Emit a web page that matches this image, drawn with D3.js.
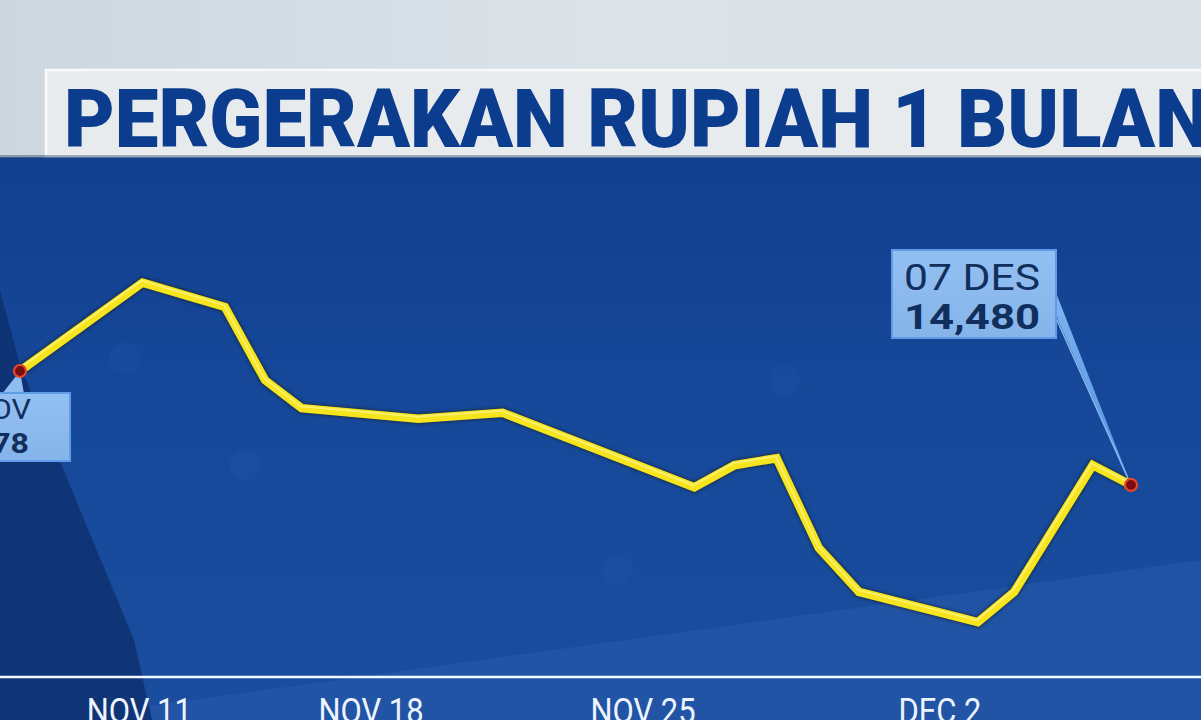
<!DOCTYPE html>
<html><head><meta charset="utf-8">
<script src="https://cdn.jsdelivr.net/npm/d3@7"></script>
<style>html,body{margin:0;padding:0;overflow:hidden;background:#dbe3e9}</style>
</head><body>
<script>
// ---- data ----
const title = "PERGERAKAN RUPIAH 1 BULAN";
const dayPos = [0, 3.2, 5.35, 6.4, 7.35, 10.4, 12.6, 17.6, 18.65, 19.75, 20.85, 21.9, 25, 25.95, 28, 29];
const rates  = [14578, 14654, 14633, 14570, 14546, 14537, 14542, 14478, 14497, 14503, 14426, 14388, 14362, 14388, 14497, 14480];
const tickPos = [3.1, 9.15, 16.25, 24];
const tickLabels = ["NOV 11", "NOV 18", "NOV 25", "DEC 2"];
const startLabel = ["08 NOV", "14,578"];
const endLabel = ["07 DES", "14,480"];

const W = 1201, H = 720;
const svg = d3.select("body").append("svg").attr("width", W).attr("height", H);
const defs = svg.append("defs");

const gTop = defs.append("linearGradient").attr("id","gTop").attr("x1",0).attr("x2",1).attr("y1",0).attr("y2",0);
gTop.append("stop").attr("offset","0").attr("stop-color","#cdd7df");
gTop.append("stop").attr("offset","0.5").attr("stop-color","#dbe3e9");
gTop.append("stop").attr("offset","1").attr("stop-color","#d9e1e7");

const gPanel = defs.append("linearGradient").attr("id","gPanel").attr("x1",0).attr("x2",0).attr("y1",0).attr("y2",1);
gPanel.append("stop").attr("offset","0").attr("stop-color","#123f8e");
gPanel.append("stop").attr("offset","0.5").attr("stop-color","#17499b");
gPanel.append("stop").attr("offset","1").attr("stop-color","#1b4d9f");

const gBox = defs.append("linearGradient").attr("id","gBox").attr("x1",0).attr("x2",0).attr("y1",0).attr("y2",1);
gBox.append("stop").attr("offset","0").attr("stop-color","#93c0f2");
gBox.append("stop").attr("offset","1").attr("stop-color","#85b4ea");

const gTail = defs.append("linearGradient").attr("id","gTail").attr("x1",0).attr("x2",0).attr("y1",0).attr("y2",1);
gTail.append("stop").attr("offset","0").attr("stop-color","#8fc0f4");
gTail.append("stop").attr("offset","1").attr("stop-color","#4f95ea");

const glow = defs.append("filter").attr("id","glow").attr("x","-10%").attr("y","-200%").attr("width","120%").attr("height","500%");
glow.append("feGaussianBlur").attr("stdDeviation",1.5);

const shadow = defs.append("filter").attr("id","shadow").attr("x","-5%").attr("y","-5%").attr("width","110%").attr("height","110%");
shadow.append("feGaussianBlur").attr("stdDeviation",1.2);

// ---- background ----
svg.append("rect").attr("x",0).attr("y",0).attr("width",W).attr("height",160).attr("fill","url(#gTop)");
svg.append("rect").attr("x",0).attr("y",157).attr("width",W).attr("height",H-157).attr("fill","url(#gPanel)");
// left dark wedge
svg.append("path").attr("d","M0,290 L20,365 L134,640 L152,720 L0,720 Z").attr("fill","#0e3170").attr("opacity",0.85);
// lighter band at bottom right
svg.append("path").attr("d","M150,706 L1201,560 L1201,720 L152,720 Z").attr("fill","#2a5cae").attr("opacity",0.5);
// faint decorative nodes
const nodes = [[125,358],[245,465],[785,380],[617,570]];
svg.append("g").selectAll("circle").data(nodes).join("circle")
  .attr("cx",d=>d[0]).attr("cy",d=>d[1]).attr("r",16)
  .attr("fill","#2a5cb0").attr("opacity",0.2);

// ---- title box ----
svg.append("rect").attr("x",46).attr("y",70).attr("width",W).attr("height",86)
  .attr("fill","#e7ebee").attr("stroke","#f7f9fa").attr("stroke-width",2.5);
svg.append("rect").attr("x",0).attr("y",155).attr("width",W).attr("height",3).attr("fill","#5d7187").attr("opacity",0.6);
svg.append("text").attr("x",64).attr("y",147)
  .attr("font-family","Roboto, 'Open Sans', sans-serif").attr("font-weight",900)
  .attr("font-size",82).attr("fill","#0b3c8e")
  .attr("textLength",1146).attr("lengthAdjust","spacingAndGlyphs")
  .text(title);

// ---- scales ----
const x = d3.scaleLinear().domain([0,29]).range([20,1131]);
const y = d3.scaleLinear().domain([14300,14700]).range([694.3,229.1]);

// ---- baseline ----
const baseY = 677;
svg.append("line").attr("x1",0).attr("x2",W).attr("y1",baseY).attr("y2",baseY)
  .attr("stroke","#7fb8ff").attr("stroke-width",6).attr("filter","url(#glow)");
svg.append("line").attr("x1",0).attr("x2",W).attr("y1",baseY).attr("y2",baseY)
  .attr("stroke","#f2f8ff").attr("stroke-width",2.5);

// ---- x axis labels via d3 axis ----
const axis = d3.axisBottom(x).tickValues(tickPos).tickSize(0)
  .tickFormat((d,i)=>tickLabels[i]);
const ax = svg.append("g").attr("transform",`translate(0,${baseY})`).call(axis);
ax.select(".domain").remove();
ax.selectAll("text")
  .attr("font-family","Roboto, sans-serif").attr("font-size",36).attr("fill","#eef4ff")
  .attr("dy",0).attr("y",46)
  .attr("transform","scale(0.86,1)");

// ---- line ----
const pts = dayPos.map((d,i)=>[d, rates[i]]);
const line = d3.line().x(d=>x(d[0])).y(d=>y(d[1]));
svg.append("path").datum(pts).attr("d",line).attr("fill","none")
  .attr("stroke","#1a2b30").attr("stroke-width",12).attr("stroke-linejoin","miter")
  .attr("opacity",0.55).attr("filter","url(#shadow)");
svg.append("path").datum(pts).attr("d",line).attr("fill","none")
  .attr("stroke","#f6e41c").attr("stroke-width",8.5).attr("stroke-linejoin","miter");
svg.append("path").datum(pts).attr("d",line).attr("fill","none")
  .attr("transform","translate(-1,-2)")
  .attr("stroke","#fff7a0").attr("stroke-width",2).attr("stroke-linejoin","miter").attr("opacity",0.6);

// ---- callouts ----
const first = pts[0], last = pts[pts.length-1];
const fx = x(first[0]), fy = y(first[1]);
const lx = x(last[0]), ly = y(last[1]);

// end callout pointer + box
svg.append("path")
  .attr("d",`M1044,262 L1058,320 L${lx-1},${ly-3} Z`)
  .attr("fill","url(#gTail)").attr("opacity",0.95);
svg.append("line").attr("x1",1056).attr("y1",318).attr("x2",lx).attr("y2",ly)
  .attr("stroke","#a9d4ff").attr("stroke-width",1.5).attr("opacity",0.8);
svg.append("rect").attr("x",892).attr("y",250).attr("width",164).attr("height",88)
  .attr("fill","url(#gBox)").attr("stroke","#5f9be6").attr("stroke-width",2);
svg.append("text").attr("x",904).attr("y",290)
  .attr("font-family","Roboto, sans-serif").attr("font-size",37).attr("fill","#112f5c")
  .attr("textLength",136).attr("lengthAdjust","spacingAndGlyphs").text(endLabel[0]);
svg.append("text").attr("x",904).attr("y",329)
  .attr("font-family","Roboto, sans-serif").attr("font-weight",700).attr("font-size",35).attr("fill","#112f5c")
  .attr("textLength",136).attr("lengthAdjust","spacingAndGlyphs").text(endLabel[1]);

// start callout pointer + box
svg.append("path")
  .attr("d",`M2,394 L24,394 L${fx},${fy} Z`)
  .attr("fill","#8fbdf0");
svg.append("rect").attr("x",-90).attr("y",393).attr("width",160).attr("height",68)
  .attr("fill","url(#gBox)").attr("stroke","#5f9be6").attr("stroke-width",2);
svg.append("text").attr("x",31).attr("y",419).attr("text-anchor","end")
  .attr("font-family","Roboto, sans-serif").attr("font-size",28).attr("fill","#112f5c")
  .attr("textLength",104).attr("lengthAdjust","spacingAndGlyphs").text(startLabel[0]);
svg.append("text").attr("x",29).attr("y",453).attr("text-anchor","end")
  .attr("font-family","Roboto, sans-serif").attr("font-weight",700).attr("font-size",27).attr("fill","#112f5c")
  .attr("textLength",100).attr("lengthAdjust","spacingAndGlyphs").text(startLabel[1]);

// end dots
svg.append("g").selectAll("circle").data([first,last]).join("circle")
  .attr("cx",d=>x(d[0])).attr("cy",d=>y(d[1])).attr("r",6)
  .attr("fill","#7a0c12").attr("stroke","#e5462e").attr("stroke-width",2.2);
</script>
</body></html>
